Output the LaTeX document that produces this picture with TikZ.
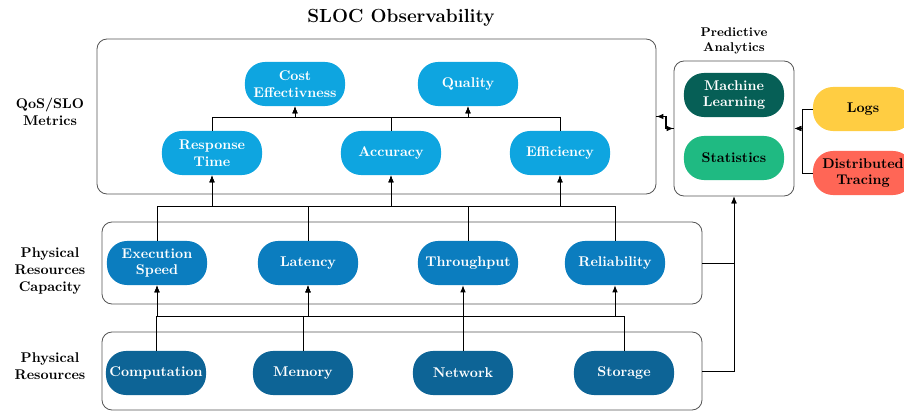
\documentclass[tikz,border=0pt]{standalone}
\usepackage{xcolor}
\usepackage{tikz}
\usetikzlibrary{positioning, arrows.meta, fit}
\definecolor{qSky}{HTML}{0EA5E0}
\definecolor{cBlue}{HTML}{0B7DBF}
\definecolor{rBlue}{HTML}{0D6496}
\definecolor{aTeal}{HTML}{065F56}
\definecolor{aGreen}{HTML}{1FBA82}
\definecolor{sYellow}{HTML}{FFCD42}
\definecolor{sRed}{HTML}{FF6656}
\definecolor{gLine}{HTML}{555555}
\tikzset{
  pill/.style={rounded corners=0.5cm, minimum width=2.5cm, minimum height=1.1cm,
    inner sep=1pt, font=\bfseries, align=center, text=white},
  qosnode/.style={pill, fill=qSky},
  capnode/.style={pill, fill=cBlue},
  resnode/.style={pill, fill=rBlue},
  mlnode/.style={pill, fill=aTeal},
  statnode/.style={pill, fill=aGreen, text=black},
  srcnode/.style={pill, text=black},
  group/.style={draw=gLine, line width=0.6pt, rounded corners=0.25cm, inner sep=0pt},
  rowlabel/.style={font=\bfseries, align=center},
  link/.style={-{Latex[length=5pt,width=4pt]}, line width=0.7pt},
}

\begin{document}
\begin{tikzpicture}[x=0.025cm, y=-0.025cm]
  \useasboundingbox (0,0) rectangle (904,412);

  \node[font=\bfseries\fontsize{13.5}{16}\selectfont] (title) at (401,18) {SLOC Observability};

  \node[group, fit={(97,39) (656,194)}] (qos) {};
  \node[group, fit={(102,222) (702,304)}] (cap) {};
  \node[group, fit={(102,332) (702,410)}] (res) {};
  \node[group, fit={(674,61) (794,196)}] (pa) {};

  \node[rowlabel] (qoslbl) at (50,112) {QoS/SLO\\Metrics};
  \node[rowlabel] (caplbl) at (50,271) {Physical\\Resources\\Capacity};
  \node[rowlabel] (reslbl) at (50,366) {Physical\\Resources};
  \node[font=\small\bfseries, align=center, above=1pt of pa] (palbl) {Predictive\\Analytics};

  \node[qosnode] (cost) at (295,84) {Cost\\Effectivness};
  \node[qosnode] (quality) at (468,84) {Quality};
  \node[qosnode] (resp) at (212,153) {Response\\Time};
  \node[qosnode] (acc) at (391,153) {Accuracy};
  \node[qosnode] (eff) at (560,153) {Efficiency};

  \node[capnode] (speed) at (157,263) {Execution\\Speed};
  \node[capnode] (lat) at (308,263) {Latency};
  \node[capnode] (thr) at (468,263) {Throughput};
  \node[capnode] (rel) at (615,263) {Reliability};

  \node[resnode] (comp) at (156,373) {Computation};
  \node[resnode] (mem) at (303,373) {Memory};
  \node[resnode] (net) at (463,373) {Network};
  \node[resnode] (stor) at (624,373) {Storage};

  \node[mlnode] (ml) at (734,95) {Machine\\Learning};
  \node[statnode] (stats) at (734,158) {Statistics};
  \node[srcnode, fill=sYellow] (logs) at (863,109) {Logs};
  \node[srcnode, fill=sRed] (trace) at (863,173) {Distributed\\Tracing};

  \draw[link] (resp.north) -- ++(0,-13) -| (cost.south);
  \draw[link] (acc.north) -- ++(0,-13) -| (cost.south);
  \draw[link] (acc.north) -- ++(0,-13) -| (quality.south);
  \draw[link] (eff.north) -- ++(0,-13) -| (quality.south);

  \draw[link] (speed.north) -- ++(0,-34) -| (resp.south);
  \draw[link] (lat.north) -- ++(0,-34) -| (resp.south);
  \draw[link] (lat.north) -- ++(0,-34) -| (acc.south);
  \draw[link] (thr.north) -- ++(0,-34) -| (acc.south);
  \draw[link] (thr.north) -- ++(0,-34) -| (eff.south);
  \draw[link] (rel.north) -- ++(0,-34) -| (eff.south);

  \draw[link] (comp.north) -- ++(0,-34) -| (speed.south);
  \draw[link] (comp.north) -- ++(0,-34) -| (lat.south);
  \draw[link] (mem.north) -- ++(0,-34) -| (speed.south);
  \draw[link] (mem.north) -- ++(0,-34) -| (lat.south);
  \draw[link] (stor.north) -- ++(0,-34) -| (lat.south);
  \draw[link] (stor.north) -- ++(0,-34) -| (rel.south);
  \draw[link] (net.north) -- (net.north |- thr.south);

  \draw[link] (cap.east) -| (pa.south);
  \draw[link] (res.east) -| (pa.south);
  \draw[link] (pa.west) -- ++(-8,0) |- (qos.east);
  \draw[link] (qos.east) -- ++(10,0) |- (pa.west);
  \draw[link] (logs.west) -- ++(-10,0) |- (pa.east);
  \draw[link] (trace.west) -- ++(-10,0) |- (pa.east);
\end{tikzpicture}
\end{document}
